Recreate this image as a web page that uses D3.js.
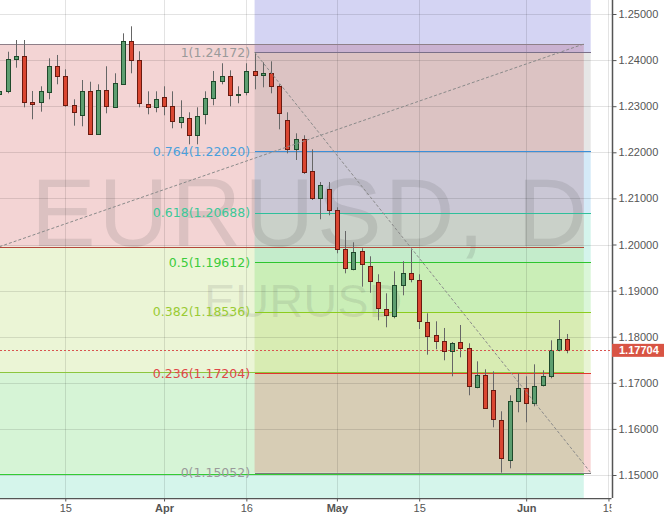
<!DOCTYPE html>
<html><head><meta charset="utf-8">
<script src="https://cdn.jsdelivr.net/npm/d3@7"></script>
<style>body{margin:0;background:#fff}svg{display:block}</style>
</head><body>
<svg id="c" width="664" height="519"></svg>
<script>
// ---------- data ----------
const dates = ["2018-03-05","2018-03-06","2018-03-07","2018-03-08","2018-03-09",
"2018-03-12","2018-03-13","2018-03-14","2018-03-15","2018-03-16",
"2018-03-19","2018-03-20","2018-03-21","2018-03-22","2018-03-23",
"2018-03-26","2018-03-27","2018-03-28","2018-03-29","2018-03-30",
"2018-04-02","2018-04-03","2018-04-04","2018-04-05","2018-04-06",
"2018-04-09","2018-04-10","2018-04-11","2018-04-12","2018-04-13",
"2018-04-16","2018-04-17","2018-04-18","2018-04-19","2018-04-20",
"2018-04-23","2018-04-24","2018-04-25","2018-04-26","2018-04-27",
"2018-04-30","2018-05-01","2018-05-02","2018-05-03","2018-05-04",
"2018-05-07","2018-05-08","2018-05-09","2018-05-10","2018-05-11",
"2018-05-14","2018-05-15","2018-05-16","2018-05-17","2018-05-18",
"2018-05-21","2018-05-22","2018-05-23","2018-05-24","2018-05-25",
"2018-05-28","2018-05-29","2018-05-30","2018-05-31","2018-06-01",
"2018-06-04","2018-06-05","2018-06-06","2018-06-07","2018-06-08"];
const open = [1.23280,1.23323,1.24017,1.24089,1.23085,
1.23085,1.23302,1.23866,1.23649,1.23020,
1.22803,1.23323,1.22390,1.23345,1.22976,
1.23475,1.24408,1.23996,1.23041,1.22976,
1.23193,1.22998,1.22651,1.22738,1.22369,
1.22824,1.23171,1.23540,1.23649,1.23236,
1.23302,1.23757,1.23670,1.23714,1.23432,
1.22694,1.22065,1.22282,1.21588,1.21002,
1.21197,1.20742,1.19896,1.19462,1.19852,
1.19527,1.19180,1.18594,1.18443,1.19115,
1.19375,1.19223,1.18325,1.18030,1.17900,
1.17683,1.17879,1.17748,1.16902,1.17163,
1.16837,1.16187,1.15319,1.16599,1.16881,
1.16555,1.16946,1.17141,1.17705,1.17944];
const high = [1.23400,1.24182,1.24436,1.24436,1.23330,
1.23432,1.24039,1.24111,1.23800,1.23150,
1.23568,1.23531,1.23475,1.23866,1.23714,
1.24581,1.24733,1.24191,1.23323,1.23323,
1.23432,1.23323,1.23128,1.22868,1.22976,
1.23323,1.23764,1.23931,1.23779,1.23432,
1.23931,1.24172,1.23952,1.23974,1.23475,
1.22868,1.22412,1.22369,1.22065,1.21356,
1.21356,1.20807,1.20293,1.20048,1.19918,
1.19744,1.19354,1.18941,1.19419,1.19636,
1.19896,1.19354,1.18508,1.18334,1.18189,
1.17885,1.18254,1.17857,1.17466,1.17293,
1.17249,1.16382,1.16729,1.17206,1.17141,
1.17401,1.17271,1.17922,1.18362,1.18059];
const low = [1.23250,1.23280,1.23835,1.22976,1.22716,
1.22881,1.23150,1.23475,1.22990,1.22577,
1.22564,1.22390,1.22390,1.22846,1.22960,
1.23460,1.23714,1.22976,1.22824,1.22868,
1.22803,1.22521,1.22521,1.22173,1.22173,
1.22607,1.23020,1.23475,1.22998,1.23063,
1.23236,1.23367,1.23410,1.23280,1.22499,
1.21978,1.21833,1.21530,1.20965,1.20547,
1.20633,1.19809,1.19375,1.19440,1.19085,
1.18954,1.18356,1.18204,1.18399,1.18898,
1.19180,1.18167,1.17610,1.17727,1.17488,
1.17141,1.17553,1.16729,1.16881,1.16447,
1.16035,1.15052,1.15145,1.16360,1.16143,
1.16490,1.16920,1.17098,1.17683,1.17640];
const close = [1.23336,1.24017,1.24089,1.23085,1.23041,
1.23323,1.23866,1.23649,1.23020,1.22868,
1.23323,1.22390,1.23345,1.22998,1.23497,
1.24408,1.23987,1.23063,1.22976,1.23150,
1.22998,1.22672,1.22759,1.22369,1.22781,
1.23171,1.23540,1.23649,1.23236,1.23258,
1.23757,1.23670,1.23714,1.23432,1.22846,
1.22065,1.22282,1.21557,1.21002,1.21284,
1.20742,1.19896,1.19484,1.19831,1.19571,
1.19202,1.18616,1.18464,1.19115,1.19375,
1.19245,1.18334,1.18030,1.17900,1.17683,
1.17857,1.17748,1.16924,1.17163,1.16447,
1.16208,1.15362,1.16599,1.16881,1.16555,
1.16924,1.17141,1.17705,1.17944,1.17704];

const priceTicks = [1.15,1.16,1.17,1.18,1.19,1.20,1.21,1.22,1.23,1.24,1.25];
const timeTickDates = ["2018-03-15","2018-04-02","2018-04-16","2018-05-01","2018-05-15","2018-06-01","2018-06-15"];
const timeTickLabels = ["15","Apr","16","May","15","Jun","15"];
const monthLabels = ["Apr","May","Jun"];

const fibLevels = [1, 0.764, 0.618, 0.5, 0.382, 0.236, 0];
const fibHigh = 1.24172, fibLow = 1.15052;
const fibStartDate = "2018-04-17", fibEndDate = "2018-06-13";
const fibLineColors = ["#7a6f88","#3b8fd9","#2fbf9c","#2ec52e","#8ccc1e","#e3342f","#7a7a7a"];
const fibLabelColors = ["#9a9a9a","#4ba0dc","#3cc897","#3ccc3c","#9acb34","#e04848","#9a9a9a"];
const fibBandColors = ["rgba(60,60,200,0.22)","rgba(128,128,128,0.2)","rgba(40,150,220,0.2)",
  "rgba(40,200,160,0.2)","rgba(70,210,60,0.2)","rgba(140,200,40,0.2)","rgba(220,52,48,0.2)"];

const zoneEdges = [1.24349, 1.19952, 1.17225, 1.15025, 1.13];
const zoneFills = ["#f3d4d4","#ebf5d6","#d6f4d6","#d5f5eb"];
const zoneLineColors = ["#8e7f88","#b5473a","#8cc63e","#33cc33"];
const zoneStartDate = "2018-03-01", zoneEndDate = "2018-06-12";
const diagStartDate = "2018-03-05";

const lastPrice = 1.17704;
const symbolText = "EURUSD, D", symbolSmall = "EURUSD";

// ---------- helpers ----------
function tIndex(ds){
  const t0 = Date.UTC(2018,2,5);
  const [Y,M,D] = ds.split('-').map(Number);
  const t = Date.UTC(Y,M-1,D);
  let n = 0;
  if (t >= t0) { for (let d=t0; d<t; d+=864e5){ const w=new Date(d).getUTCDay(); if(w!==0&&w!==6) n++; } }
  else { for (let d=t0-864e5; d>=t; d-=864e5){ const w=new Date(d).getUTCDay(); if(w!==0&&w!==6) n--; } }
  return n;
}
const W=664,H=519, PW=612, PH=498;
const svg = d3.select("#c");
const x = d3.scaleLinear().domain([0.066, 74.43]).range([0, PW]);
const y = d3.scaleLinear().domain([1.25+14/4610, 1.25-484/4610]).range([0, PH]);

svg.append("defs").append("clipPath").attr("id","plot")
  .append("rect").attr("x",0).attr("y",0).attr("width",PW).attr("height",PH);
svg.select("defs").append("clipPath").attr("id","xlab")
  .append("rect").attr("x",0).attr("y",PH).attr("width",611.5).attr("height",H-PH);

svg.append("rect").attr("width",W).attr("height",H).attr("fill","#fff");
const g = svg.append("g").attr("clip-path","url(#plot)");

// zones
const zx0 = x(tIndex(zoneStartDate)), zx1 = x(tIndex(zoneEndDate));
zoneFills.forEach((c,i)=>{
  g.append("rect").attr("x",zx0).attr("width",zx1-zx0)
    .attr("y",y(zoneEdges[i])).attr("height",y(zoneEdges[i+1])-y(zoneEdges[i]))
    .attr("fill",c);
});

// fib bands
const fx0 = x(tIndex(fibStartDate)), fx1 = x(tIndex(fibEndDate)) - 1.3;
const fibPrice = l => fibLow + l*(fibHigh-fibLow);
const bandTops = [y.domain()[0]].concat(fibLevels.slice(0,-1).map(fibPrice));
const bandBots = fibLevels.map(fibPrice);
fibBandColors.forEach((c,i)=>{
  g.append("rect").attr("x",fx0).attr("width",fx1-fx0)
    .attr("y",y(bandTops[i])).attr("height",y(bandBots[i])-y(bandTops[i]))
    .attr("fill",c);
});

// watermark
g.append("text").attr("x",31).attr("y",246).text(symbolText)
  .attr("font-family","Liberation Sans, Arial, sans-serif").attr("font-size",97)
  .attr("textLength",556).attr("lengthAdjust","spacing")
  .attr("fill","rgba(80,80,80,0.14)");
g.append("text").attr("x",204).attr("y",317).text(symbolSmall)
  .attr("font-family","Liberation Sans, Arial, sans-serif").attr("font-size",47)
  .attr("fill","rgba(80,80,80,0.12)");

// grid
const tickIdx = timeTickDates.map(tIndex);
g.selectAll(".hg").data(priceTicks).enter().append("line")
  .attr("x1",0).attr("x2",PW).attr("y1",d=>Math.round(y(d))+0.5).attr("y2",d=>Math.round(y(d))+0.5)
  .attr("stroke","rgba(0,0,0,0.11)");
g.selectAll(".vg").data(tickIdx).enter().append("line")
  .attr("y1",0).attr("y2",PH).attr("x1",d=>Math.round(x(d))+0.5).attr("x2",d=>Math.round(x(d))+0.5)
  .attr("stroke","rgba(0,0,0,0.11)");

// zone borders
zoneLineColors.forEach((col,i)=>{
  const yy = Math.round(y(zoneEdges[i]))+0.5;
  g.append("line").attr("x1",zx0).attr("x2",zx1).attr("y1",yy).attr("y2",yy)
    .attr("stroke",col).attr("stroke-width",1).attr("shape-rendering","crispEdges");
});

// fib level lines
fibLevels.forEach((l,i)=>{
  const yy = Math.round(y(fibPrice(l)))+0.5;
  g.append("line").attr("x1",fx0).attr("x2",fx1).attr("y1",yy).attr("y2",yy)
    .attr("stroke",fibLineColors[i]).attr("stroke-width",1).attr("shape-rendering","crispEdges");
});

// candles
const candles = dates.map((d,i)=>({i, o:open[i], h:high[i], l:low[i], c:close[i]}));
const cg = g.append("g");
cg.selectAll(".wick").data(candles).enter().append("line")
  .attr("x1",d=>Math.round(x(d.i))+0.5).attr("x2",d=>Math.round(x(d.i))+0.5)
  .attr("y1",d=>y(d.h)).attr("y2",d=>y(d.l))
  .attr("stroke","#666").attr("stroke-width",1);
cg.selectAll(".body").data(candles).enter().append("rect")
  .attr("x",d=>Math.round(x(d.i))-2+0.5)
  .attr("width",4)
  .attr("y",d=>Math.round(y(Math.max(d.o,d.c)))+0.5)
  .attr("height",d=>Math.max(1,Math.round(Math.abs(y(d.o)-y(d.c)))))
  .attr("fill",d=>d.c>=d.o?"#5d9e70":"#da4631")
  .attr("stroke",d=>d.c>=d.o?"#1f4a2b":"#6a1a10").attr("stroke-width",1);

// dashed trend lines
g.append("line").attr("x1",fx0).attr("y1",y(fibHigh)).attr("x2",fx1).attr("y2",y(fibLow))
  .attr("stroke","#8a8a8a").attr("stroke-width",1).attr("stroke-dasharray","3,2");
g.append("line").attr("x1",x(tIndex(diagStartDate))).attr("y1",y(zoneEdges[1]))
  .attr("x2",zx1).attr("y2",y(zoneEdges[0]))
  .attr("stroke","#8a8a8a").attr("stroke-width",1).attr("stroke-dasharray","3,2");

// current price line
const ly = Math.round(y(lastPrice))+0.5;
g.append("line").attr("x1",0).attr("x2",PW).attr("y1",ly).attr("y2",ly)
  .attr("stroke","#d9534f").attr("stroke-width",1).attr("stroke-dasharray","2,2");

// fib labels
const fmt5 = d3.format(".5f");
fibLevels.forEach((l,i)=>{
  g.append("text").attr("x",fx0-4.5).attr("y",y(fibPrice(l))).attr("dy","0.36em")
    .attr("text-anchor","end").attr("font-family","DejaVu Sans, sans-serif").attr("font-size",12.5)
    .attr("fill",fibLabelColors[i]).text(`${l}(${fmt5(fibPrice(l))})`);
});

// axes
const ay = svg.append("g").attr("transform",`translate(${PW+0.5},0)`)
  .call(d3.axisRight(y).tickValues(priceTicks).tickFormat(fmt5).tickSize(4).tickSizeOuter(0));
ay.select(".domain").attr("stroke","#555").attr("stroke-width",1.5).attr("d",`M0,0V${PH}`);
ay.selectAll(".tick line").attr("stroke","#555");
ay.selectAll(".tick text").attr("x",6).attr("fill","#555")
  .attr("font-family","Liberation Sans, Arial, sans-serif").attr("font-size",11);

const axg = svg.append("g").attr("clip-path","url(#xlab)");
const ax = axg.append("g").attr("transform",`translate(0,${PH+0.5})`)
  .call(d3.axisBottom(x).tickValues(tickIdx).tickFormat((d,i)=>timeTickLabels[i]).tickSize(3).tickSizeOuter(0));
ax.select(".domain").attr("stroke","#555").attr("stroke-width",1.5).attr("d",`M0,0H${PW+1}`);
ax.selectAll(".tick line").attr("stroke","#555");
ax.selectAll(".tick text").attr("y",6).attr("fill","#555")
  .attr("font-family","Liberation Sans, Arial, sans-serif").attr("font-size",11)
  .attr("font-weight",(d,i)=>monthLabels.includes(timeTickLabels[i])?"bold":"normal");

// price label
const pl = svg.append("g");
pl.append("rect").attr("x",PW).attr("y",y(lastPrice)-6.5).attr("width",W-PW).attr("height",13)
  .attr("fill","#d85444");
pl.append("text").attr("x",619).attr("y",y(lastPrice)).attr("dy","0.36em")
  .attr("fill","#fff").attr("font-family","Liberation Sans, Arial, sans-serif")
  .attr("font-size",11).attr("font-weight","bold").text(fmt5(lastPrice));
</script>
</body></html>
